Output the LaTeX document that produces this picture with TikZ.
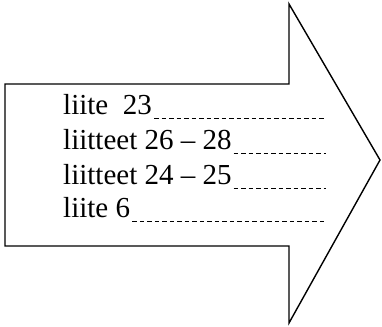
\documentclass[tikz,border=0pt]{standalone}
\usepackage{fontspec}
\setmainfont{Liberation Serif}
\begin{document}
\begin{tikzpicture}[x=1pt,y=-1pt]
		\useasboundingbox (0,0) rectangle (382,326);
		\tikzset{rivi/.style={anchor=base west, inner sep=0pt, font=\fontsize{29}{34}\selectfont},
			viiva/.style={line width=1.5pt, dash pattern=on 4.5pt off 3pt}}
		\draw[line width = 1.4pt, line join=miter] (5,84)--(289,84)--(289,4)--(380,160)--(289,323)--(289,246)--(5,246)--cycle;
		\foreach \n/\y/\txt in {1/114/{liite\ \ 23}, 2/149/{liitteet 26 -- 28}, 3/184/{liitteet 24 -- 25}, 4/217/{liite 6}}{
			\node[rivi] (l\n) at (63,\y) {\txt};
			\coordinate (e\n) at (326,\y+4.5);
			\draw[viiva] ([xshift=2pt]l\n.base east |- e\n) -- (e\n);
		}
\end{tikzpicture}
\end{document}
